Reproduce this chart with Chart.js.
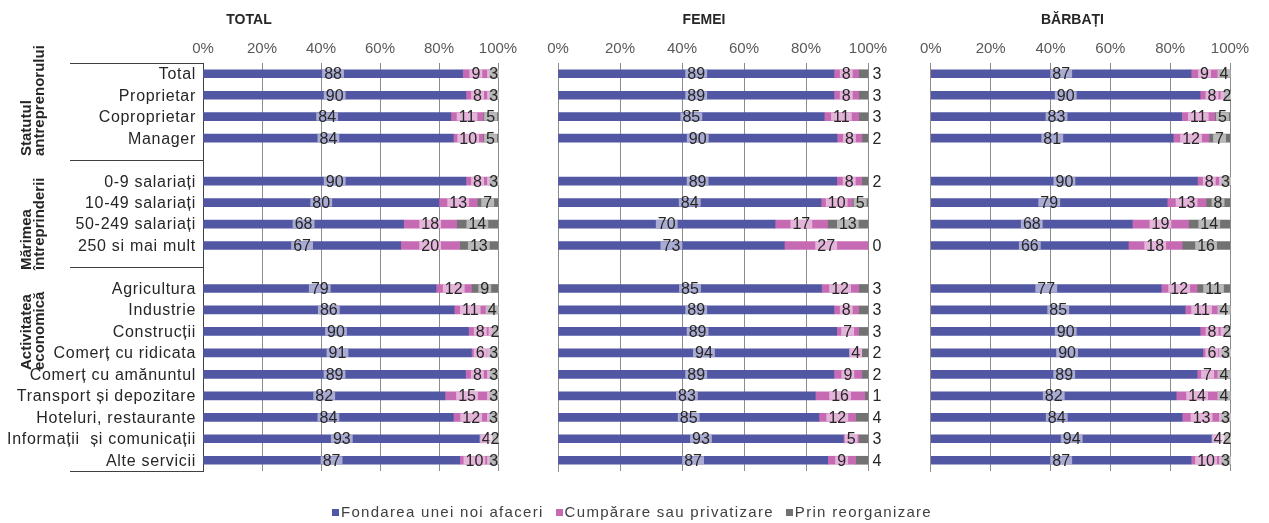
<!DOCTYPE html>
<html>
<head>
<meta charset="utf-8">
<script src="https://cdn.jsdelivr.net/npm/chart.js@4.4.1/dist/chart.umd.min.js"></script>
<style>
  html, body { margin: 0; padding: 0; background: #fff; }
  #wrap { position: relative; width: 1269px; height: 523px; overflow: hidden; }
  .panel { position: absolute; top: 0; }
  #legend {
    position: absolute; left: 0; top: 503px; width: 1264px; text-align: center;
    font: 15px "Liberation Sans", Arial, sans-serif; color: #404040; white-space: nowrap;
    letter-spacing: 1.3px;
  }
  #legend .item { margin: 0 6px; }
  #legend i { display: inline-block; width: 7px; height: 7px; margin-right: 2px; vertical-align: 1px; }
</style>
</head>
<body>
<div id="wrap">
  <canvas id="c-total" class="panel" width="560" height="523" style="left:0"></canvas>
  <canvas id="c-femei" class="panel" width="360" height="523" style="left:540px"></canvas>
  <canvas id="c-barbati" class="panel" width="354" height="523" style="left:915px"></canvas>
  <div id="legend"></div>
</div>
<script>
// categories ('' = spacer row between groups)
const categories = [
  'Total', 'Proprietar', 'Coproprietar', 'Manager', '',
  '0-9 salariați', '10-49 salariați', '50-249 salariați', '250 si mai mult', '',
  'Agricultura', 'Industrie', 'Construcții', 'Comerț cu ridicata', 'Comerț cu amănuntul',
  'Transport și depozitare', 'Hoteluri, restaurante', 'Informații  și comunicații', 'Alte servicii'
];
const groupTitles = [
  ['Statutul', 'antreprenorului'],
  ['Mărimea', 'întreprinderii'],
  ['Activitatea', 'economică']
];
const seriesNames = ['Fondarea unei noi afaceri', 'Cumpărare sau privatizare', 'Prin reorganizare'];
const xTicks = [0, 20, 40, 60, 80, 100];

// TOTAL
const totalFondare  = [88, 90, 84, 84, null, 90, 80, 68, 67, null, 79, 86, 90, 91, 89, 82, 84, 93, 87];
const totalCumparare = [9, 8, 11, 10, null, 8, 13, 18, 20, null, 12, 11, 8, 6, 8, 15, 12, 4, 10];
const totalReorg    = [3, 3, 5, 5, null, 3, 7, 14, 13, null, 9, 4, 2, 3, 3, 3, 3, 2, 3];
// FEMEI
const femeiFondare  = [89, 89, 85, 90, null, 89, 84, 70, 73, null, 85, 89, 89, 94, 89, 83, 85, 93, 87];
const femeiCumparare = [8, 8, 11, 8, null, 8, 10, 17, 27, null, 12, 8, 7, 4, 9, 16, 12, 5, 9];
const femeiReorg    = [3, 3, 3, 2, null, 2, 5, 13, 0, null, 3, 3, 3, 2, 2, 1, 4, 3, 4];
// BARBATI
const barbatiFondare  = [87, 90, 83, 81, null, 90, 79, 68, 66, null, 77, 85, 90, 90, 89, 82, 84, 94, 87];
const barbatiCumparare = [9, 8, 11, 12, null, 8, 13, 19, 18, null, 12, 11, 8, 6, 7, 14, 13, 4, 10];
const barbatiReorg    = [4, 2, 5, 7, null, 3, 8, 14, 16, null, 11, 4, 2, 3, 4, 4, 3, 2, 3];

const colors = ['#5257a4', '#c66bb3', '#727272'];
const FONT = '"Liberation Sans", Arial, sans-serif';
const TEXT = '#262626';
const GRID = '#8c8c8c';

// 100% stacked: each row is drawn as shares of its own total
function toShares(series) {
  return series.map((s) => s.map((v, i) => {
    if (v === null) return null;
    const sum = series.reduce((acc, a) => acc + a[i], 0);
    return v / sum * 100;
  }));
}

const valueLabels = {
  id: 'valueLabels',
  afterDatasetsDraw(chart, args, opts) {
    const ctx = chart.ctx;
    ctx.save();
    ctx.font = '16px ' + FONT;
    ctx.textAlign = 'center';
    ctx.textBaseline = 'middle';
    opts.values.forEach((vals, di) => {
      const meta = chart.getDatasetMeta(di);
      meta.data.forEach((bar, i) => {
        const v = vals[i];
        if (v === null || v === undefined) return;
        const txt = String(v);
        const w = ctx.measureText(txt).width;
        let cx = (bar.x + bar.base) / 2;
        // small "reorganizare" labels in FEMEI sit just past the bar end
        if (opts.outsideSmall && di === 2 && v < 5) {
          cx = bar.x + 9;
        } else {
          ctx.fillStyle = 'rgba(255,255,255,0.5)';
          ctx.fillRect(cx - w / 2 - 2, bar.y - bar.height / 2, w + 4, bar.height);
        }
        ctx.fillStyle = TEXT;
        ctx.fillText(txt, cx, bar.y + 1);
      });
    });
    ctx.restore();
  }
};

// category labels, table rules and rotated group titles of the left panel
const tableFrame = {
  id: 'tableFrame',
  afterDraw(chart) {
    const { ctx, chartArea, scales: { y } } = chart;
    const lines = [chartArea.top, y.getPixelForValue(4), y.getPixelForValue(9), chartArea.bottom];
    ctx.save();
    ctx.strokeStyle = '#404040';
    ctx.lineWidth = 1;
    lines.forEach((py) => {
      const yy = Math.round(py) + 0.5;
      ctx.beginPath();
      ctx.moveTo(70, yy);
      ctx.lineTo(chartArea.left, yy);
      ctx.stroke();
    });

    ctx.font = '16px ' + FONT;
    ctx.letterSpacing = '0.7px';
    ctx.fillStyle = TEXT;
    ctx.textAlign = 'right';
    ctx.textBaseline = 'middle';
    categories.forEach((c, i) => {
      if (!c) return;
      ctx.fillText(c, chartArea.left - 7, y.getPixelForValue(i) + 1);
    });

    const anchors = [156, 270, 370];
    ctx.letterSpacing = '0px';
    ctx.font = 'bold 15px ' + FONT;
    ctx.textAlign = 'left';
    groupTitles.forEach((lns, g) => {
      ctx.save();
      ctx.translate(27, anchors[g]);
      ctx.rotate(-Math.PI / 2);
      lns.forEach((ln, j) => ctx.fillText(ln, 0, j * 13));
      ctx.restore();
    });
    ctx.restore();
  }
};

function makePanel(id, title, series, cfg) {
  const shares = toShares(series);
  return new Chart(document.getElementById(id), {
    type: 'bar',
    data: {
      labels: categories,
      datasets: seriesNames.map((name, k) => ({
        label: name,
        data: shares[k],
        backgroundColor: colors[k],
        barThickness: 8,
      })),
    },
    options: {
      indexAxis: 'y',
      responsive: false,
      animation: false,
      devicePixelRatio: 1,
      layout: { padding: { left: 0, right: cfg.padRight, top: 0, bottom: 52 } },
      plugins: {
        legend: { display: false },
        tooltip: { enabled: false },
        title: {
          display: true,
          text: title,
          color: TEXT,
          font: { family: FONT, size: 14, weight: 'bold', lineHeight: 1.2 },
          padding: { top: 12, bottom: 0 },
        },
        valueLabels: { values: series, outsideSmall: !!cfg.outsideSmall },
      },
      scales: {
        x: {
          position: 'top',
          stacked: true,
          min: 0,
          max: 100,
          afterBuildTicks: (s) => { s.ticks = xTicks.map((v) => ({ value: v })); },
          afterFit: (s) => { s.height = 34.2; },
          grid: { color: GRID, lineWidth: 1, drawTicks: false },
          border: { display: false },
          ticks: {
            color: '#595959',
            padding: 5,
            font: { family: FONT, size: 15 },
            callback: (v) => v + '%',
          },
        },
        y: {
          stacked: true,
          afterFit: (s) => { s.width = cfg.yWidth; },
          grid: { display: false, drawTicks: false },
          border: { display: true, color: cfg.axisColor, width: 1 },
          ticks: { display: false },
        },
      },
    },
    plugins: cfg.table ? [valueLabels, tableFrame] : [valueLabels],
  });
}

makePanel('c-total', 'TOTAL', [totalFondare, totalCumparare, totalReorg],
  { yWidth: 203, padRight: 62, table: true, axisColor: '#404040' });
makePanel('c-femei', 'FEMEI', [femeiFondare, femeiCumparare, femeiReorg],
  { yWidth: 18, padRight: 32, axisColor: GRID, outsideSmall: true });
makePanel('c-barbati', 'BĂRBAȚI', [barbatiFondare, barbatiCumparare, barbatiReorg],
  { yWidth: 14, padRight: 39, axisColor: GRID });

const legend = document.getElementById('legend');
seriesNames.forEach((name, k) => {
  const item = document.createElement('span');
  item.className = 'item';
  const mark = document.createElement('i');
  mark.style.background = colors[k];
  item.appendChild(mark);
  item.appendChild(document.createTextNode(name));
  legend.appendChild(item);
});
</script>
</body>
</html>
